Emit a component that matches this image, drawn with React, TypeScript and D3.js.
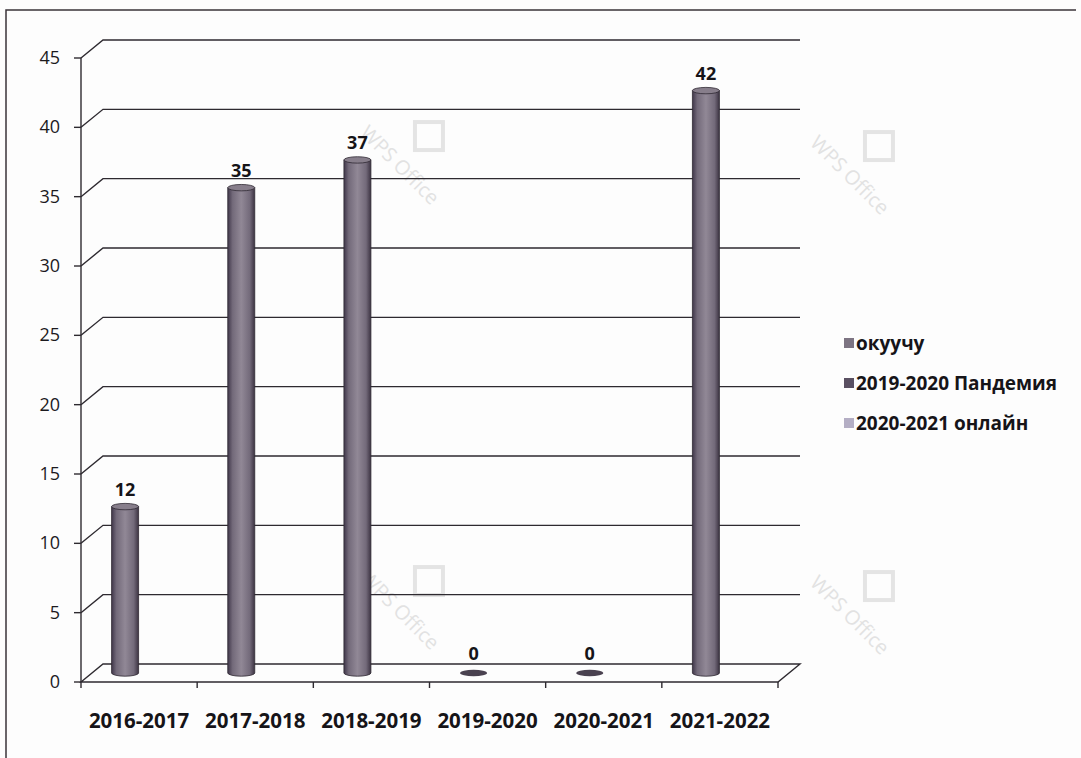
import React from 'react';
import * as d3 from 'd3';

// data
const categories = ['2016-2017', '2017-2018', '2018-2019', '2019-2020', '2020-2021', '2021-2022'];
const values = [12, 35, 37, 0, 0, 42];
const yTicks = [0, 5, 10, 15, 20, 25, 30, 35, 40, 45];
const legendLabels = ['окуучу', '2019-2020 Пандемия', '2020-2021 онлайн'];
const legendColors = ['#7d7482', '#5a5062', '#b4aec4'];
const watermarks = [
  [395, 170],
  [845, 180],
  [395, 615],
  [845, 620],
];

const W = 1081;
const H = 758;
const DX = 22; // depth shift of back wall
const DY = -18;
const FONT = '"Open Sans", "DejaVu Sans", sans-serif';

const App: React.FC = () => {
  const y = d3.scaleLinear().domain([0, 45]).range([682, 58]);
  const x = d3.scaleBand<string>().domain(categories).range([81, 778]);
  const bw = x.bandwidth();
  const barW = 27;
  const rx = barW / 2;
  const ry = 3.2;

  const floorPath = d3.path();
  floorPath.moveTo(81, y(0));
  floorPath.lineTo(778, y(0));
  floorPath.lineTo(778 + DX, y(0) + DY);
  floorPath.lineTo(81 + DX, y(0) + DY);
  floorPath.closePath();

  const grid = d3.line();

  return (
    <svg
      width={W}
      height={H}
      style={{ position: 'absolute', left: 0, top: 0, background: '#fdfdfd' }}
    >
      <defs>
        <linearGradient id="cyl" x1="0" x2="1" y1="0" y2="0">
          <stop offset="0" stopColor="#40374a" />
          <stop offset="0.18" stopColor="#736a7a" />
          <stop offset="0.5" stopColor="#918896" />
          <stop offset="0.82" stopColor="#736a7a" />
          <stop offset="1" stopColor="#3c3342" />
        </linearGradient>
      </defs>

      {/* watermarks */}
      <g fill="#e2e2e2" fontFamily={FONT} fontSize={20}>
        {watermarks.map(([wx, wy], i) => (
          <g key={i} transform={`translate(${wx},${wy}) rotate(45)`}>
            <text x={0} y={0} textAnchor="middle">WPS Office</text>
            <rect x={-14} y={-62} width={28} height={28} fill="none" stroke="#e4e4e4" strokeWidth={4} transform="rotate(-45 0 -48)" />
          </g>
        ))}
      </g>

      {/* page frame */}
      <path d="M6,758 L6,10 L1076,10" fill="none" stroke="#3a3338" strokeWidth={1.5} />

      {/* gridlines with 3d wall offset */}
      <g fill="none" stroke="#2e2a30" strokeWidth={1.4}>
        {yTicks.slice(1).map(v => (
          <path
            key={v}
            d={grid([
              [81, y(v)],
              [81 + DX, y(v) + DY],
              [778 + DX, y(v) + DY],
            ]) || ''}
          />
        ))}
        <path d={floorPath.toString()} />
        {/* front axis */}
        <line x1={81} x2={81} y1={y(0)} y2={y(45)} />
        {yTicks.map(v => (
          <line key={'t' + v} x1={74} x2={81} y1={y(v)} y2={y(v)} />
        ))}
        {[...categories.map(c => x(c) as number), 778].map((px, i) => (
          <line key={'x' + i} x1={px} x2={px} y1={y(0)} y2={y(0) + 6} />
        ))}
      </g>

      {/* y tick labels */}
      <g fontFamily={FONT} fontSize={18} fill="#1c1a1e" textAnchor="end">
        {yTicks.map(v => (
          <text key={v} x={60} y={y(v) + 6}>{v}</text>
        ))}
      </g>

      {/* cylinders */}
      {categories.map((c, i) => {
        const v = values[i];
        const cx = (x(c) as number) + bw / 2 + DX / 2 - 25;
        const base = y(0) + DY / 2;
        const top = y(v) + DY / 2;
        return (
          <g key={c}>
            {v > 0 ? (
              <>
                <path
                  d={`M${cx - rx},${top} L${cx - rx},${base} A${rx},${ry} 0 0 0 ${cx + rx},${base} L${cx + rx},${top} Z`}
                  fill="url(#cyl)"
                  stroke="#2e2832"
                  strokeWidth={0.8}
                />
                <ellipse cx={cx} cy={top} rx={rx} ry={ry} fill="#877e8b" stroke="#2e2832" strokeWidth={0.8} />
              </>
            ) : (
              <ellipse cx={cx} cy={base} rx={rx} ry={ry} fill="#4a4250" />
            )}
            <text
              x={cx}
              y={v > 0 ? top - 11 : base - 13}
              textAnchor="middle"
              fontFamily={FONT}
              fontWeight="bold"
              fontSize={18}
              fill="#161418"
            >
              {v}
            </text>
          </g>
        );
      })}

      {/* category labels */}
      <g fontFamily={FONT} fontWeight="bold" fontSize={20.5} fill="#161418" textAnchor="middle">
        {categories.map(c => (
          <text key={c} x={(x(c) as number) + bw / 2} y={728}>{c}</text>
        ))}
      </g>

      {/* legend */}
      <g fontFamily={FONT} fontWeight="bold" fontSize={19} fill="#161418">
        {legendLabels.map((l, i) => (
          <g key={l} transform={`translate(844,${343 + i * 40})`}>
            <rect x={0} y={-5} width={10} height={10} fill={legendColors[i]} />
            <text x={12} y={6.5}>{l}</text>
          </g>
        ))}
      </g>
    </svg>
  );
};

export default App;
